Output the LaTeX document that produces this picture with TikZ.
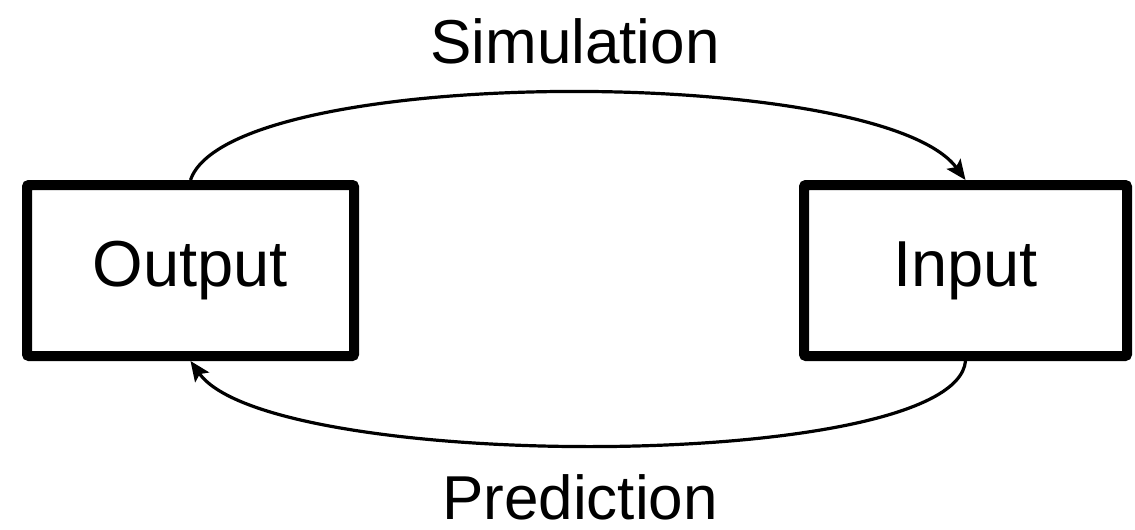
\documentclass[tikz,border=0pt]{standalone}
\usepackage{fontspec}
\setmainfont{Liberation Sans}
\usepackage{tikz}
\usetikzlibrary{positioning, arrows.meta}

\begin{document}
\begin{tikzpicture}[
  x=0.5pt, y=-0.5pt,
  block/.style={rectangle, draw, line width=5pt, rounded corners=1pt, minimum height=85.5pt, font=\fontsize{32.5}{38}\selectfont},
  flow/.style={-{Stealth[length=10pt, width=8.5pt, inset=2pt]}, line width=1.6pt},
  lbl/.style={anchor=base, font=\fontsize{31}{37}\selectfont}
]
\useasboundingbox (0,0) rectangle (1135,530);

% Blocks
\node[block, minimum width=163.5pt] (out) at (190.5,270.5) {Output};
\node[block, minimum width=161.5pt] (in) at (965.5,270.5) {Input};

% Arcs
\draw[flow] (out.north) .. controls (230,64) and (880,64) .. (in.north);
\draw[flow] (in.south) .. controls (955,473) and (270,473) .. (out.south);

% Labels
\node[lbl] (sim) at (575,63) {Simulation};
\node[lbl] (pred) at (580,519) {Prediction};

\end{tikzpicture}
\end{document}
